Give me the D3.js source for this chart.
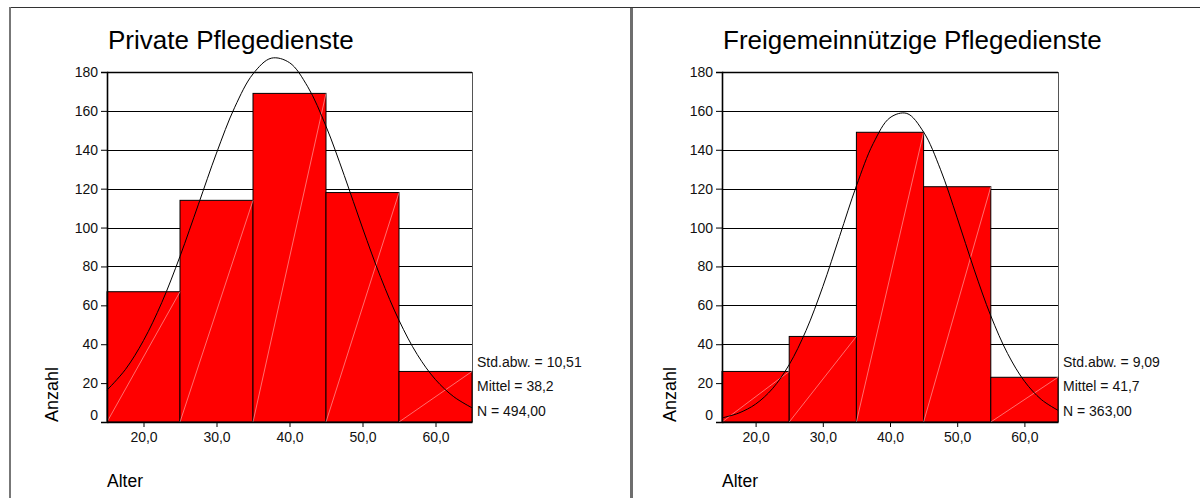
<!DOCTYPE html>
<html>
<head>
<meta charset="utf-8">
<script src="https://cdn.jsdelivr.net/npm/d3@7"></script>
<style>
  html, body { margin: 0; padding: 0; background: #fff; }
  svg { display: block; font-family: "Liberation Sans", Arial, sans-serif; }
</style>
</head>
<body>
<svg id="chart" width="1200" height="498"></svg>
<script>
// ---- data ----
const binStarts = [15, 25, 35, 45, 55];
const binWidth = 10;
const privateCounts = [67, 114, 169, 118, 26];
const freiCounts = [26, 44, 149, 121, 23];
const xTickValues = [20, 30, 40, 50, 60];
const xTickLabels = ["20,0", "30,0", "40,0", "50,0", "60,0"];
const yTickValues = [0, 20, 40, 60, 80, 100, 120, 140, 160, 180];
const curveX = [15, 17.5, 20, 22.5, 25, 27.5, 30, 32.5, 35, 37.5, 40, 42.5, 45, 47.5, 50, 52.5, 55, 57.5, 60, 62.5, 65];
const privateCurve = [16.4, 26.9, 41.9, 61.4, 85.2, 111.7, 138.3, 161.9, 179.0, 187.1, 184.8, 172.4, 152.1, 126.8, 99.8, 74.3, 52.3, 34.7, 21.8, 13.0, 7.3];
const freiCurve = [2.1, 4.6, 9.2, 17.1, 29.5, 47.0, 69.6, 95.5, 121.4, 143.2, 156.5, 158.7, 149.1, 130.0, 105.0, 78.6, 54.6, 35.2, 21.0, 11.6, 6.0];
const titles = ["Private Pflegedienste", "Freigemeinnützige Pflegedienste"];
const privateStats = ["Std.abw. = 10,51", "Mittel = 38,2", "N = 494,00"];
const freiStats = ["Std.abw. = 9,09", "Mittel = 41,7", "N = 363,00"];
const yLabel = "Anzahl";
const xLabel = "Alter";

// ---- layout ----
const svg = d3.select("#chart");

// frame lines
svg.append("line").attr("x1", 10).attr("x2", 1200).attr("y1", 7.5).attr("y2", 7.5)
  .attr("stroke", "#333").attr("stroke-width", 1);
svg.append("line").attr("x1", 10).attr("x2", 10).attr("y1", 7).attr("y2", 498)
  .attr("stroke", "#777").attr("stroke-width", 2);
svg.append("line").attr("x1", 631.5).attr("x2", 631.5).attr("y1", 8).attr("y2", 498)
  .attr("stroke", "#6e6e6e").attr("stroke-width", 3);

const panels = [
  { counts: privateCounts, curve: privateCurve, title: titles[0], stats: privateStats, x0: 107, x1: 472, labelX: 58 },
  { counts: freiCounts, curve: freiCurve, title: titles[1], stats: freiStats, x0: 722, x1: 1058, labelX: 676 }
];

const yTop = 72, yBottom = 422;

panels.forEach(p => {
  const x = d3.scaleLinear().domain([15, 65]).range([p.x0, p.x1]);
  const y = d3.scaleLinear().domain([0, 180]).range([yBottom, yTop]);
  const g = svg.append("g");

  // gridlines
  g.append("g").selectAll("line").data(yTickValues.filter(v => v > 0)).join("line")
    .attr("x1", p.x0).attr("x2", p.x1)
    .attr("y1", d => Math.round(y(d)) + 0.5).attr("y2", d => Math.round(y(d)) + 0.5)
    .attr("stroke", "#000").attr("stroke-width", d => d === 180 ? 1.6 : 1);

  // right frame edge
  g.append("line").attr("x1", p.x1 + 0.5).attr("x2", p.x1 + 0.5).attr("y1", yTop).attr("y2", yBottom)
    .attr("stroke", "#555").attr("stroke-width", 1);

  const bins = binStarts.map((s, i) => ({ s, e: s + binWidth, v: p.counts[i] }));

  // bars
  g.append("g").selectAll("rect").data(bins).join("rect")
    .attr("x", d => x(d.s)).attr("width", d => x(d.e) - x(d.s))
    .attr("y", d => y(d.v)).attr("height", d => y(0) - y(d.v))
    .attr("fill", "#ff0000").attr("stroke", "#000").attr("stroke-width", 1);

  // faint diagonal hatch in each bar
  g.append("g").selectAll("line").data(bins).join("line")
    .attr("x1", d => x(d.s)).attr("y1", y(0))
    .attr("x2", d => x(d.e)).attr("y2", d => y(d.v))
    .attr("stroke", "#ffb8b8").attr("stroke-width", 0.6);

  // normal curve
  const line = d3.line().x((d, i) => x(curveX[i])).y(d => y(d)).curve(d3.curveCatmullRom);
  g.append("path").datum(p.curve).attr("d", line)
    .attr("fill", "none").attr("stroke", "#000").attr("stroke-width", 1);

  // axes
  const yAxis = d3.axisLeft(y).tickValues(yTickValues).tickSize(6).tickPadding(3);
  const ya = g.append("g").attr("transform", `translate(${p.x0},0)`).call(yAxis);
  ya.select(".domain").attr("stroke", "#000").attr("stroke-width", 1.6);
  ya.selectAll("text").attr("font-size", 14).attr("fill", "#111")
    .attr("font-family", "Liberation Sans, Arial, sans-serif")
    .attr("dy", d => d === 0 ? "-0.18em" : "0.32em");

  const xAxis = d3.axisBottom(x).tickValues(xTickValues).tickFormat((d, i) => xTickLabels[i])
    .tickSize(5).tickPadding(5).tickSizeOuter(0);
  const xa = g.append("g").attr("transform", `translate(0,${yBottom})`).call(xAxis);
  xa.select(".domain").attr("stroke", "#000").attr("stroke-width", 1.6);
  xa.selectAll("text").attr("font-size", 14).attr("fill", "#111")
    .attr("font-family", "Liberation Sans, Arial, sans-serif");

  // title
  g.append("text").attr("x", p.x0 + 1).attr("y", 49).text(p.title)
    .attr("font-size", 26).attr("fill", "#000");

  // y label
  g.append("text").attr("transform", `translate(${p.labelX},${yBottom}) rotate(-90)`)
    .attr("text-anchor", "start").text(yLabel).attr("font-size", 18).attr("fill", "#000");

  // x label
  g.append("text").attr("x", p.x0).attr("y", 487).text(xLabel)
    .attr("font-size", 17.5).attr("fill", "#000");

  // stats
  g.append("g").selectAll("text").data(p.stats).join("text")
    .attr("x", p.x1 + 5).attr("y", (d, i) => 367 + i * 24.3)
    .text(d => d).attr("font-size", 14).attr("fill", "#111");
});
</script>
</body>
</html>
